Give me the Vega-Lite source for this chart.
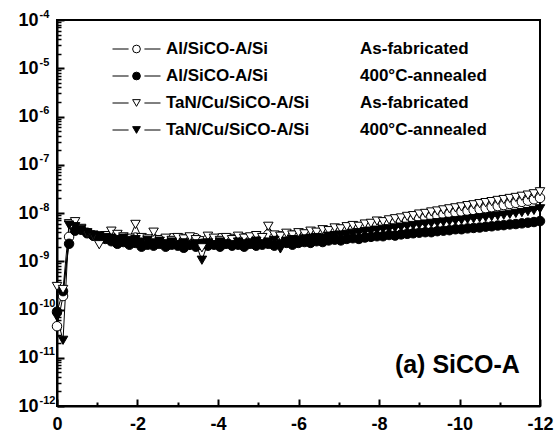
{
"$schema": "https://vega.github.io/schema/vega-lite/v6.json",
"width": 483, "height": 386,
"autosize": "none",
"padding": {"left": 57, "top": 20, "right": 15, "bottom": 31},
"background": "white",
"config": {
  "view": {"stroke": "black", "strokeWidth": 2},
  "font": "Liberation Sans",
  "legend": {"symbolBaseStrokeColor": "black", "symbolBaseFillColor": "transparent"},
  "axis": {"grid": false, "domainColor": "black", "domainWidth": 2, "tickColor": "black", "labelColor": "black", "labelFont": "Liberation Sans", "labelFontWeight": "bold", "title": null}
},
"data": {"values": [
{"s":"A1","x":0,"y":4.5e-11},{"s":"A1","x":-0.15,"y":1.9e-10},{"s":"A1","x":-0.3,"y":3.2e-9},{"s":"A1","x":-0.45,"y":5.0e-9},{"s":"A1","x":-0.6,"y":4.6e-9},{"s":"A1","x":-0.75,"y":3.9e-9},{"s":"A1","x":-0.9,"y":3.4e-9},{"s":"A1","x":-1.05,"y":3.3e-9},{"s":"A1","x":-1.2,"y":3.1e-9},{"s":"A1","x":-1.35,"y":3.4e-9},{"s":"A1","x":-1.5,"y":2.9e-9},{"s":"A1","x":-1.65,"y":3.0e-9},{"s":"A1","x":-1.8,"y":2.7e-9},{"s":"A1","x":-1.95,"y":3.1e-9},{"s":"A1","x":-2.1,"y":2.6e-9},{"s":"A1","x":-2.25,"y":2.8e-9},{"s":"A1","x":-2.4,"y":2.9e-9},{"s":"A1","x":-2.55,"y":2.7e-9},{"s":"A1","x":-2.7,"y":2.8e-9},{"s":"A1","x":-2.85,"y":3.0e-9},{"s":"A1","x":-3,"y":2.7e-9},{"s":"A1","x":-3.15,"y":2.9e-9},{"s":"A1","x":-3.3,"y":2.8e-9},{"s":"A1","x":-3.45,"y":3.0e-9},{"s":"A1","x":-3.6,"y":2.6e-9},{"s":"A1","x":-3.75,"y":2.9e-9},{"s":"A1","x":-3.9,"y":2.8e-9},{"s":"A1","x":-4.05,"y":3.0e-9},{"s":"A1","x":-4.2,"y":2.7e-9},{"s":"A1","x":-4.35,"y":2.9e-9},{"s":"A1","x":-4.5,"y":2.8e-9},{"s":"A1","x":-4.65,"y":3.0e-9},{"s":"A1","x":-4.8,"y":2.9e-9},{"s":"A1","x":-4.95,"y":3.1e-9},{"s":"A1","x":-5.1,"y":3.0e-9},{"s":"A1","x":-5.25,"y":3.6e-9},{"s":"A1","x":-5.4,"y":3.1e-9},{"s":"A1","x":-5.55,"y":3.3e-9},{"s":"A1","x":-5.7,"y":3.2e-9},{"s":"A1","x":-5.85,"y":3.4e-9},{"s":"A1","x":-6,"y":3.4e-9},{"s":"A1","x":-6.15,"y":3.5e-9},{"s":"A1","x":-6.3,"y":3.6e-9},{"s":"A1","x":-6.45,"y":3.7e-9},{"s":"A1","x":-6.6,"y":3.8e-9},{"s":"A1","x":-6.75,"y":4.0e-9},{"s":"A1","x":-6.9,"y":4.1e-9},{"s":"A1","x":-7.05,"y":4.3e-9},{"s":"A1","x":-7.2,"y":4.4e-9},{"s":"A1","x":-7.35,"y":4.6e-9},{"s":"A1","x":-7.5,"y":4.8e-9},{"s":"A1","x":-7.65,"y":5.0e-9},{"s":"A1","x":-7.8,"y":5.3e-9},{"s":"A1","x":-7.95,"y":5.6e-9},{"s":"A1","x":-8.1,"y":5.9e-9},{"s":"A1","x":-8.25,"y":6.1e-9},{"s":"A1","x":-8.4,"y":6.3e-9},{"s":"A1","x":-8.55,"y":6.6e-9},{"s":"A1","x":-8.7,"y":6.9e-9},{"s":"A1","x":-8.85,"y":7.3e-9},{"s":"A1","x":-9,"y":7.7e-9},{"s":"A1","x":-9.15,"y":8.0e-9},{"s":"A1","x":-9.3,"y":8.4e-9},{"s":"A1","x":-9.45,"y":8.8e-9},{"s":"A1","x":-9.6,"y":9.3e-9},{"s":"A1","x":-9.75,"y":9.7e-9},{"s":"A1","x":-9.9,"y":1.02e-8},{"s":"A1","x":-10.05,"y":1.06e-8},{"s":"A1","x":-10.2,"y":1.1e-8},{"s":"A1","x":-10.35,"y":1.15e-8},{"s":"A1","x":-10.5,"y":1.2e-8},{"s":"A1","x":-10.65,"y":1.26e-8},{"s":"A1","x":-10.8,"y":1.32e-8},{"s":"A1","x":-10.95,"y":1.39e-8},{"s":"A1","x":-11.1,"y":1.46e-8},{"s":"A1","x":-11.25,"y":1.54e-8},{"s":"A1","x":-11.4,"y":1.62e-8},{"s":"A1","x":-11.55,"y":1.7e-8},{"s":"A1","x":-11.7,"y":1.8e-8},{"s":"A1","x":-11.85,"y":1.92e-8},{"s":"A1","x":-12,"y":2.05e-8},
{"s":"A2","x":0,"y":9e-11},{"s":"A2","x":-0.15,"y":2.4e-10},{"s":"A2","x":-0.3,"y":2.3e-9},{"s":"A2","x":-0.45,"y":4.3e-9},{"s":"A2","x":-0.6,"y":4.5e-9},{"s":"A2","x":-0.75,"y":3.8e-9},{"s":"A2","x":-0.9,"y":3.4e-9},{"s":"A2","x":-1.05,"y":3.1e-9},{"s":"A2","x":-1.2,"y":2.9e-9},{"s":"A2","x":-1.35,"y":2.6e-9},{"s":"A2","x":-1.5,"y":2.3e-9},{"s":"A2","x":-1.65,"y":2.5e-9},{"s":"A2","x":-1.8,"y":2.2e-9},{"s":"A2","x":-1.95,"y":2.4e-9},{"s":"A2","x":-2.1,"y":2.0e-9},{"s":"A2","x":-2.25,"y":2.2e-9},{"s":"A2","x":-2.4,"y":2.1e-9},{"s":"A2","x":-2.55,"y":2.3e-9},{"s":"A2","x":-2.7,"y":2.0e-9},{"s":"A2","x":-2.85,"y":2.2e-9},{"s":"A2","x":-3,"y":2.1e-9},{"s":"A2","x":-3.15,"y":1.9e-9},{"s":"A2","x":-3.3,"y":2.2e-9},{"s":"A2","x":-3.45,"y":2.0e-9},{"s":"A2","x":-3.6,"y":2.3e-9},{"s":"A2","x":-3.75,"y":2.1e-9},{"s":"A2","x":-3.9,"y":2.2e-9},{"s":"A2","x":-4.05,"y":2.0e-9},{"s":"A2","x":-4.2,"y":2.3e-9},{"s":"A2","x":-4.35,"y":2.1e-9},{"s":"A2","x":-4.5,"y":2.2e-9},{"s":"A2","x":-4.65,"y":2.0e-9},{"s":"A2","x":-4.8,"y":2.3e-9},{"s":"A2","x":-4.95,"y":2.1e-9},{"s":"A2","x":-5.1,"y":2.2e-9},{"s":"A2","x":-5.25,"y":2.3e-9},{"s":"A2","x":-5.4,"y":2.1e-9},{"s":"A2","x":-5.55,"y":2.3e-9},{"s":"A2","x":-5.7,"y":2.4e-9},{"s":"A2","x":-5.85,"y":2.2e-9},{"s":"A2","x":-6,"y":2.4e-9},{"s":"A2","x":-6.15,"y":2.5e-9},{"s":"A2","x":-6.3,"y":2.4e-9},{"s":"A2","x":-6.45,"y":2.6e-9},{"s":"A2","x":-6.6,"y":2.5e-9},{"s":"A2","x":-6.75,"y":2.7e-9},{"s":"A2","x":-6.9,"y":2.8e-9},{"s":"A2","x":-7.05,"y":2.7e-9},{"s":"A2","x":-7.2,"y":2.9e-9},{"s":"A2","x":-7.35,"y":3.0e-9},{"s":"A2","x":-7.5,"y":2.9e-9},{"s":"A2","x":-7.65,"y":3.1e-9},{"s":"A2","x":-7.8,"y":3.2e-9},{"s":"A2","x":-7.95,"y":3.3e-9},{"s":"A2","x":-8.1,"y":3.3e-9},{"s":"A2","x":-8.25,"y":3.5e-9},{"s":"A2","x":-8.4,"y":3.4e-9},{"s":"A2","x":-8.55,"y":3.6e-9},{"s":"A2","x":-8.7,"y":3.7e-9},{"s":"A2","x":-8.85,"y":3.8e-9},{"s":"A2","x":-9,"y":3.9e-9},{"s":"A2","x":-9.15,"y":4.0e-9},{"s":"A2","x":-9.3,"y":4.0e-9},{"s":"A2","x":-9.45,"y":4.2e-9},{"s":"A2","x":-9.6,"y":4.3e-9},{"s":"A2","x":-9.75,"y":4.4e-9},{"s":"A2","x":-9.9,"y":4.6e-9},{"s":"A2","x":-10.05,"y":4.6e-9},{"s":"A2","x":-10.2,"y":4.8e-9},{"s":"A2","x":-10.35,"y":4.9e-9},{"s":"A2","x":-10.5,"y":5.0e-9},{"s":"A2","x":-10.65,"y":5.2e-9},{"s":"A2","x":-10.8,"y":5.3e-9},{"s":"A2","x":-10.95,"y":5.5e-9},{"s":"A2","x":-11.1,"y":5.6e-9},{"s":"A2","x":-11.25,"y":5.8e-9},{"s":"A2","x":-11.4,"y":5.9e-9},{"s":"A2","x":-11.55,"y":6.1e-9},{"s":"A2","x":-11.7,"y":6.3e-9},{"s":"A2","x":-11.85,"y":6.5e-9},{"s":"A2","x":-12,"y":6.8e-9},
{"s":"T1","x":0,"y":3.0e-10},{"s":"T1","x":-0.15,"y":2.6e-10},{"s":"T1","x":-0.3,"y":6.0e-9},{"s":"T1","x":-0.45,"y":6.6e-9},{"s":"T1","x":-0.6,"y":4.8e-9},{"s":"T1","x":-0.75,"y":3.7e-9},{"s":"T1","x":-0.9,"y":3.3e-9},{"s":"T1","x":-1.05,"y":2.2e-9},{"s":"T1","x":-1.2,"y":3.4e-9},{"s":"T1","x":-1.35,"y":4.2e-9},{"s":"T1","x":-1.5,"y":3.6e-9},{"s":"T1","x":-1.65,"y":3.2e-9},{"s":"T1","x":-1.8,"y":3.0e-9},{"s":"T1","x":-1.95,"y":5.8e-9},{"s":"T1","x":-2.1,"y":3.1e-9},{"s":"T1","x":-2.25,"y":2.9e-9},{"s":"T1","x":-2.4,"y":4.0e-9},{"s":"T1","x":-2.55,"y":2.8e-9},{"s":"T1","x":-2.7,"y":3.0e-9},{"s":"T1","x":-2.85,"y":2.7e-9},{"s":"T1","x":-3,"y":3.1e-9},{"s":"T1","x":-3.15,"y":2.9e-9},{"s":"T1","x":-3.3,"y":3.2e-9},{"s":"T1","x":-3.45,"y":2.8e-9},{"s":"T1","x":-3.6,"y":1.9e-9},{"s":"T1","x":-3.75,"y":3.3e-9},{"s":"T1","x":-3.9,"y":3.0e-9},{"s":"T1","x":-4.05,"y":2.7e-9},{"s":"T1","x":-4.2,"y":3.1e-9},{"s":"T1","x":-4.35,"y":2.8e-9},{"s":"T1","x":-4.5,"y":3.3e-9},{"s":"T1","x":-4.65,"y":3.0e-9},{"s":"T1","x":-4.8,"y":3.2e-9},{"s":"T1","x":-4.95,"y":3.4e-9},{"s":"T1","x":-5.1,"y":3.1e-9},{"s":"T1","x":-5.25,"y":5.3e-9},{"s":"T1","x":-5.4,"y":3.5e-9},{"s":"T1","x":-5.55,"y":3.3e-9},{"s":"T1","x":-5.7,"y":3.8e-9},{"s":"T1","x":-5.85,"y":3.5e-9},{"s":"T1","x":-6,"y":3.9e-9},{"s":"T1","x":-6.15,"y":3.7e-9},{"s":"T1","x":-6.3,"y":4.2e-9},{"s":"T1","x":-6.45,"y":4.0e-9},{"s":"T1","x":-6.6,"y":4.5e-9},{"s":"T1","x":-6.75,"y":4.3e-9},{"s":"T1","x":-6.9,"y":4.9e-9},{"s":"T1","x":-7.05,"y":4.7e-9},{"s":"T1","x":-7.2,"y":5.2e-9},{"s":"T1","x":-7.35,"y":5.5e-9},{"s":"T1","x":-7.5,"y":5.3e-9},{"s":"T1","x":-7.65,"y":5.9e-9},{"s":"T1","x":-7.8,"y":6.1e-9},{"s":"T1","x":-7.95,"y":6.8e-9},{"s":"T1","x":-8.1,"y":6.6e-9},{"s":"T1","x":-8.25,"y":7.2e-9},{"s":"T1","x":-8.4,"y":7.6e-9},{"s":"T1","x":-8.55,"y":7.9e-9},{"s":"T1","x":-8.7,"y":8.5e-9},{"s":"T1","x":-8.85,"y":8.8e-9},{"s":"T1","x":-9,"y":9.5e-9},{"s":"T1","x":-9.15,"y":9.8e-9},{"s":"T1","x":-9.3,"y":1.05e-8},{"s":"T1","x":-9.45,"y":1.1e-8},{"s":"T1","x":-9.6,"y":1.16e-8},{"s":"T1","x":-9.75,"y":1.22e-8},{"s":"T1","x":-9.9,"y":1.28e-8},{"s":"T1","x":-10.05,"y":1.34e-8},{"s":"T1","x":-10.2,"y":1.42e-8},{"s":"T1","x":-10.35,"y":1.48e-8},{"s":"T1","x":-10.5,"y":1.56e-8},{"s":"T1","x":-10.65,"y":1.64e-8},{"s":"T1","x":-10.8,"y":1.72e-8},{"s":"T1","x":-10.95,"y":1.82e-8},{"s":"T1","x":-11.1,"y":1.9e-8},{"s":"T1","x":-11.25,"y":2.0e-8},{"s":"T1","x":-11.4,"y":2.1e-8},{"s":"T1","x":-11.55,"y":2.22e-8},{"s":"T1","x":-11.7,"y":2.35e-8},{"s":"T1","x":-11.85,"y":2.5e-8},{"s":"T1","x":-12,"y":2.75e-8},
{"s":"T2","x":0,"y":7e-11},{"s":"T2","x":-0.15,"y":2.3e-11},{"s":"T2","x":-0.3,"y":5.6e-9},{"s":"T2","x":-0.45,"y":5.2e-9},{"s":"T2","x":-0.6,"y":4.6e-9},{"s":"T2","x":-0.75,"y":3.9e-9},{"s":"T2","x":-0.9,"y":3.5e-9},{"s":"T2","x":-1.05,"y":3.3e-9},{"s":"T2","x":-1.2,"y":3.1e-9},{"s":"T2","x":-1.35,"y":3.0e-9},{"s":"T2","x":-1.5,"y":2.8e-9},{"s":"T2","x":-1.65,"y":3.0e-9},{"s":"T2","x":-1.8,"y":2.7e-9},{"s":"T2","x":-1.95,"y":2.8e-9},{"s":"T2","x":-2.1,"y":2.5e-9},{"s":"T2","x":-2.25,"y":2.7e-9},{"s":"T2","x":-2.4,"y":2.4e-9},{"s":"T2","x":-2.55,"y":2.6e-9},{"s":"T2","x":-2.7,"y":2.3e-9},{"s":"T2","x":-2.85,"y":2.5e-9},{"s":"T2","x":-3,"y":2.2e-9},{"s":"T2","x":-3.15,"y":2.4e-9},{"s":"T2","x":-3.3,"y":2.1e-9},{"s":"T2","x":-3.45,"y":2.3e-9},{"s":"T2","x":-3.6,"y":1.05e-9},{"s":"T2","x":-3.75,"y":2.4e-9},{"s":"T2","x":-3.9,"y":2.2e-9},{"s":"T2","x":-4.05,"y":2.5e-9},{"s":"T2","x":-4.2,"y":2.3e-9},{"s":"T2","x":-4.35,"y":2.2e-9},{"s":"T2","x":-4.5,"y":2.5e-9},{"s":"T2","x":-4.65,"y":2.3e-9},{"s":"T2","x":-4.8,"y":2.4e-9},{"s":"T2","x":-4.95,"y":2.6e-9},{"s":"T2","x":-5.1,"y":2.3e-9},{"s":"T2","x":-5.25,"y":2.5e-9},{"s":"T2","x":-5.4,"y":2.7e-9},{"s":"T2","x":-5.55,"y":1.8e-9},{"s":"T2","x":-5.7,"y":2.6e-9},{"s":"T2","x":-5.85,"y":2.8e-9},{"s":"T2","x":-6,"y":2.7e-9},{"s":"T2","x":-6.15,"y":2.9e-9},{"s":"T2","x":-6.3,"y":3.0e-9},{"s":"T2","x":-6.45,"y":3.1e-9},{"s":"T2","x":-6.6,"y":3.0e-9},{"s":"T2","x":-6.75,"y":3.3e-9},{"s":"T2","x":-6.9,"y":3.4e-9},{"s":"T2","x":-7.05,"y":3.5e-9},{"s":"T2","x":-7.2,"y":3.6e-9},{"s":"T2","x":-7.35,"y":3.8e-9},{"s":"T2","x":-7.5,"y":3.9e-9},{"s":"T2","x":-7.65,"y":4.1e-9},{"s":"T2","x":-7.8,"y":4.2e-9},{"s":"T2","x":-7.95,"y":4.4e-9},{"s":"T2","x":-8.1,"y":4.6e-9},{"s":"T2","x":-8.25,"y":4.7e-9},{"s":"T2","x":-8.4,"y":4.9e-9},{"s":"T2","x":-8.55,"y":5.1e-9},{"s":"T2","x":-8.7,"y":5.3e-9},{"s":"T2","x":-8.85,"y":5.5e-9},{"s":"T2","x":-9,"y":5.7e-9},{"s":"T2","x":-9.15,"y":5.9e-9},{"s":"T2","x":-9.3,"y":6.1e-9},{"s":"T2","x":-9.45,"y":6.3e-9},{"s":"T2","x":-9.6,"y":6.5e-9},{"s":"T2","x":-9.75,"y":6.7e-9},{"s":"T2","x":-9.9,"y":6.9e-9},{"s":"T2","x":-10.05,"y":7.1e-9},{"s":"T2","x":-10.2,"y":7.4e-9},{"s":"T2","x":-10.35,"y":7.6e-9},{"s":"T2","x":-10.5,"y":7.9e-9},{"s":"T2","x":-10.65,"y":8.1e-9},{"s":"T2","x":-10.8,"y":8.4e-9},{"s":"T2","x":-10.95,"y":8.7e-9},{"s":"T2","x":-11.1,"y":9.0e-9},{"s":"T2","x":-11.25,"y":9.4e-9},{"s":"T2","x":-11.4,"y":9.8e-9},{"s":"T2","x":-11.55,"y":1.02e-8},{"s":"T2","x":-11.7,"y":1.07e-8},{"s":"T2","x":-11.85,"y":1.13e-8},{"s":"T2","x":-12,"y":1.22e-8}
]},
"resolve": {"axis": {"x": "independent", "y": "independent"}},
"layer": [
  {
    "mark": {"type": "line", "color": "black", "strokeWidth": 1},
    "encoding": {
      "x": {"field": "x", "type": "quantitative",
        "scale": {"domain": [0, -12], "nice": false, "zero": false},
        "axis": {"orient": "bottom", "values": [0, -2, -4, -6, -8, -10, -12], "tickSize": -7, "tickWidth": 2, "labelFontSize": 18, "labelPadding": 16, "labelFlush": false, "labelOverlap": false, "labelExpr": "'' + datum.value"}},
      "y": {"field": "y", "type": "quantitative",
        "scale": {"type": "log", "domain": [1e-12, 1e-4], "nice": false},
        "axis": {"orient": "left", "values": [1e-12, 1e-11, 1e-10, 1e-9, 1e-8, 1e-7, 1e-6, 1e-5, 1e-4], "tickSize": -7, "tickWidth": 2, "labelFontSize": 18, "labelPadding": 26, "labelFlush": false, "labelOverlap": false, "labelExpr": "'10'", "labelBaseline": "middle"}},
      "detail": {"field": "s"}
    }
  },
  {
    "mark": {"type": "point", "filled": true, "size": 90, "opacity": 1},
    "encoding": {
      "x": {"field": "x", "type": "quantitative",
        "axis": {"orient": "bottom", "values": [-1, -3, -5, -7, -9, -11], "tickSize": -4, "tickWidth": 2, "labels": false, "domain": false}},
      "y": {"field": "y", "type": "quantitative",
        "axis": {"orient": "left", "values": [1e-12, 1e-11, 1e-10, 1e-9, 1e-8, 1e-7, 1e-6, 1e-5, 1e-4], "ticks": false, "domain": false, "labelFontSize": 11, "labelAlign": "left", "labelBaseline": "middle", "labelPadding": 18, "labelOffset": -6, "labelFlush": false, "labelOverlap": false, "labelExpr": "'' + round(log(datum.value)/LN10)"}},
      "shape": {"field": "s", "type": "nominal", "scale": {"domain": ["A1", "A2", "T1", "T2"], "range": ["circle", "circle", "triangle-down", "triangle-down"]},
        "legend": {"orient": "none", "legendX": 55, "legendY": 19, "title": null, "padding": 0, "symbolSize": 60, "symbolOffset": 16, "clipHeight": 20, "rowPadding": 7, "labelOffset": 21, "labelFontSize": 17, "labelFont": "Liberation Sans", "labelFontWeight": "bold", "labelColor": "black", "labelLimit": 300, "symbolStrokeWidth": 1,
          "labelExpr": "(datum.label === 'A1' || datum.label === 'A2') ? 'Al/SiCO-A/Si' : 'TaN/Cu/SiCO-A/Si'"}},
      "fill": {"field": "s", "type": "nominal", "scale": {"domain": ["A1", "A2", "T1", "T2"], "range": ["white", "black", "white", "black"]},
        "legend": {"orient": "none", "legendX": 55, "legendY": 19, "title": null, "padding": 0, "symbolSize": 60, "symbolOffset": 16, "clipHeight": 20, "rowPadding": 7, "labelOffset": 21, "labelFontSize": 17, "labelFont": "Liberation Sans", "labelFontWeight": "bold", "labelColor": "black", "labelLimit": 300, "symbolStrokeWidth": 1,
          "labelExpr": "(datum.label === 'A1' || datum.label === 'A2') ? 'Al/SiCO-A/Si' : 'TaN/Cu/SiCO-A/Si'"}},
      "stroke": {"field": "s", "type": "nominal", "scale": {"domain": ["A1", "A2", "T1", "T2"], "range": ["black", "black", "black", "black"]},
        "legend": {"orient": "none", "legendX": 55, "legendY": 19, "title": null, "padding": 0, "symbolSize": 60, "symbolOffset": 16, "clipHeight": 20, "rowPadding": 7, "labelOffset": 21, "labelFontSize": 17, "labelFont": "Liberation Sans", "labelFontWeight": "bold", "labelColor": "black", "labelLimit": 300, "symbolStrokeWidth": 1,
          "labelExpr": "(datum.label === 'A1' || datum.label === 'A2') ? 'Al/SiCO-A/Si' : 'TaN/Cu/SiCO-A/Si'"}},
      "opacity": {"field": "s", "type": "nominal", "scale": {"domain": ["T2", "T1", "A2", "A1"], "range": [1, 1, 1, 1]},
        "legend": {"orient": "none", "legendX": 55, "legendY": 19, "title": null, "padding": 0, "symbolType": "M-1,0L-0.33,0M0.33,0L1,0", "symbolSize": 2304, "symbolStrokeWidth": 1, "symbolStrokeColor": "black", "symbolFillColor": "transparent", "clipHeight": 20, "rowPadding": 7, "labelOffset": 0, "labelExpr": "''"}},
      "strokeWidth": {"field": "s", "type": "nominal", "scale": {"range": [1, 1, 1, 1]},
        "legend": {"orient": "none", "legendX": 286, "legendY": 19, "title": null, "padding": 0, "symbolSize": 0, "symbolOpacity": 0, "clipHeight": 20, "rowPadding": 7, "labelOffset": 0, "labelFontSize": 17, "labelFont": "Liberation Sans", "labelFontWeight": "bold", "labelColor": "black", "labelLimit": 300,
          "labelExpr": "(datum.label === 'A1' || datum.label === 'T1') ? 'As-fabricated' : '400°C-annealed'"}}
    }
  },
  {
    "mark": {"type": "point", "opacity": 0},
    "encoding": {
      "x": {"field": "x", "type": "quantitative", "axis": null},
      "y": {"field": "y", "type": "quantitative",
        "axis": {"orient": "left", "values": [2e-12,3e-12,4e-12,5e-12,6e-12,7e-12,8e-12,9e-12,2e-11,3e-11,4e-11,5e-11,6e-11,7e-11,8e-11,9e-11,2e-10,3e-10,4e-10,5e-10,6e-10,7e-10,8e-10,9e-10,2e-9,3e-9,4e-9,5e-9,6e-9,7e-9,8e-9,9e-9,2e-8,3e-8,4e-8,5e-8,6e-8,7e-8,8e-8,9e-8,2e-7,3e-7,4e-7,5e-7,6e-7,7e-7,8e-7,9e-7,2e-6,3e-6,4e-6,5e-6,6e-6,7e-6,8e-6,9e-6,2e-5,3e-5,4e-5,5e-5,6e-5,7e-5,8e-5,9e-5], "tickSize": -4, "tickWidth": 1.5, "labels": false, "domain": false}}
    }
  },
  {
    "data": {"values": [{"label": "(a) SiCO-A"}]},
    "mark": {"type": "text", "fontSize": 25, "fontWeight": "bold", "font": "Liberation Sans", "align": "right", "baseline": "alphabetic", "color": "black"},
    "encoding": {
      "x": {"datum": -11.5, "axis": null},
      "y": {"datum": 4.8e-12, "axis": null},
      "text": {"field": "label"}
    }
  }
]
}
